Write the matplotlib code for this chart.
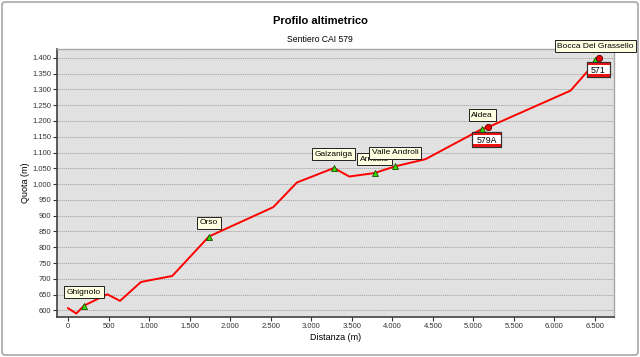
import matplotlib
matplotlib.use("Agg")
import matplotlib.pyplot as plt
import matplotlib.transforms as mtransforms
from matplotlib.patches import Rectangle, FancyBboxPatch
from matplotlib.ticker import FuncFormatter, MultipleLocator

plt.rcParams['font.family'] = ['Liberation Sans', 'DejaVu Sans']

# profilo del sentiero
dist = [0, 102, 197, 485, 641, 900, 1286, 1738, 2532, 2823, 3280, 3469,
        3781, 4032, 4410, 5109, 5179, 6198, 6411, 6506, 6555]
quota = [607, 590, 615, 651, 630, 690, 709, 834, 927, 1005, 1051, 1024,
         1035, 1056, 1079, 1175, 1180, 1296, 1358, 1393, 1400]

# punti notevoli
wp_names = ['Ghignolo', 'Orso', 'Galzaniga', 'Arnosto', 'Valle Androli',
            'Aldea', 'Bocca Del Grassello']
wp_dist = [197, 1738, 3280, 3781, 4032, 5109, 6506]
wp_quota = [615, 834, 1051, 1035, 1056, 1175, 1393]

# incroci con altri sentieri
sign_names = ['579A', '571']
sign_dist = [5179, 6555]
sign_quota = [1180, 1400]

fig = plt.figure(figsize=(6.4, 3.57), dpi=100)
fig.patch.set_facecolor('white')
fig.patches.append(FancyBboxPatch((2, 2), 636, 353, boxstyle='round,pad=0,rounding_size=3',
                                  transform=None, facecolor='none',
                                  edgecolor='#a8a8a8', linewidth=1.2))

ax = fig.add_axes([57/640, 1-317/357, (614-57)/640, (317-49)/357])
ax.set_facecolor('#e1e1e1')
ax.set_xlim(-136, 6735)
ax.set_ylim(579, 1428)

ax.xaxis.set_major_locator(MultipleLocator(500))
ax.yaxis.set_major_locator(MultipleLocator(50))
fmt = FuncFormatter(lambda v, p: '{:,.0f}'.format(v).replace(',', '.'))
ax.xaxis.set_major_formatter(fmt)
ax.yaxis.set_major_formatter(fmt)
ax.tick_params(labelsize=5.5, length=3, width=0.8, pad=1.5, colors='#333333')
ax.tick_params(axis='y', pad=1)
ax.grid(axis='y', linestyle=(0, (1.5, 1)), color='#a0a0a0', linewidth=0.6)
ax.set_axisbelow(True)
for s in ['left', 'bottom']:
    ax.spines[s].set_color('#404040')
    ax.spines[s].set_linewidth(1.2)
for s in ['top', 'right']:
    ax.spines[s].set_color('#a8a8a8')
    ax.spines[s].set_linewidth(1.0)

ax.plot(dist, quota, color='#ff0000', linewidth=1.4, zorder=3)

ax.plot(wp_dist, wp_quota, linestyle='none', marker='^', markersize=5,
        markerfacecolor='#33dd00', markeredgecolor='#1a4d00', markeredgewidth=0.6, zorder=4)
ax.plot(sign_dist, sign_quota, linestyle='none', marker='o', markersize=4.5,
        markerfacecolor='#ee0000', markeredgecolor='#550000', markeredgewidth=0.6, zorder=5)

for name, x, y in zip(wp_names, wp_dist, wp_quota):
    ax.annotate(name, (x, y), xytext=(0, 10.5), textcoords='offset points',
                ha='center', va='center_baseline', fontsize=6, color='black', zorder=6,
                bbox=dict(boxstyle='square,pad=0.3', facecolor='#ffffe1',
                          edgecolor='#202020', linewidth=0.7))

# cartelli bianco-rossi sotto gli incroci
for name, x, y in zip(sign_names, sign_dist, sign_quota):
    tr = mtransforms.ScaledTranslation(x, y, ax.transData)
    w = 6 * len(name) + 5
    h = 15
    cy = -12
    x0 = -w / 2 - 1
    ax.add_patch(Rectangle((x0, cy - h/2), w, h, transform=tr, facecolor='white',
                           edgecolor='#303030', linewidth=0.8, zorder=7, clip_on=False))
    ax.add_patch(Rectangle((x0, cy + h/2 - 3), w, 3, transform=tr, facecolor='#ee1111',
                           edgecolor='none', zorder=7, clip_on=False))
    ax.add_patch(Rectangle((x0, cy - h/2), w, 3, transform=tr, facecolor='#ee1111',
                           edgecolor='none', zorder=7, clip_on=False))
    ax.add_patch(Rectangle((x0, cy - h/2), w, h, transform=tr, facecolor='none',
                           edgecolor='#303030', linewidth=0.8, zorder=7, clip_on=False))
    ax.text(x0 + w/2, cy, name, transform=tr, ha='center', va='center_baseline',
            fontsize=6.3, color='black', zorder=8)

fig.text(0.5, 1 - 21/357, 'Profilo altimetrico', ha='center', va='center',
         fontsize=8, fontweight='bold')
fig.text(0.5, 1 - 39.5/357, 'Sentiero CAI 579', ha='center', va='center', fontsize=6.2)
fig.text(335.5/640, 1 - 337/357, 'Distanza (m)', ha='center', va='center', fontsize=6.5)
fig.text(25/640, 1 - 183/357, 'Quota (m)', ha='center', va='center', fontsize=6.5,
         rotation=90)

fig.savefig('out.png', dpi=100)
